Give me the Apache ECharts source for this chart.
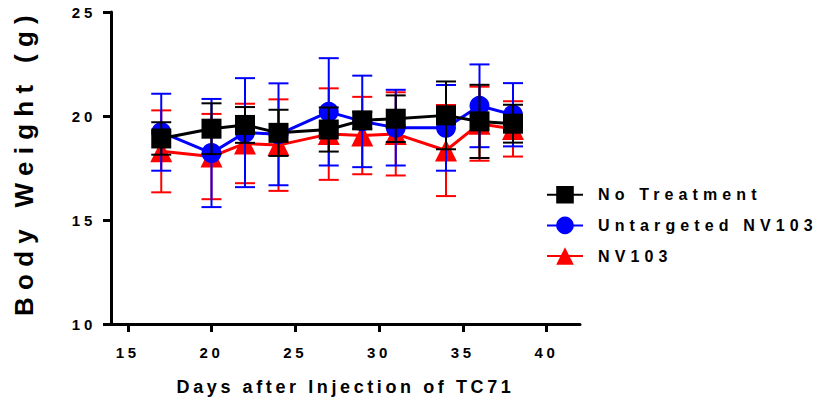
<!DOCTYPE html>
<html>
<head>
<meta charset="utf-8">
<script src="https://cdn.jsdelivr.net/npm/echarts@6/dist/echarts.min.js"></script>
<style>
  html, body { margin: 0; padding: 0; background: #fff; }
  #main { width: 817px; height: 401px; }
  #main text { letter-spacing: 0.32em; }
</style>
</head>
<body>
<div id="main"></div>
<script>
const days = [17, 20, 22, 24, 27, 29, 31, 34, 36, 38];
const noTreatMean = [18.92, 19.39, 19.57, 19.19, 19.35, 19.79, 19.87, 20.03, 19.74, 19.63];
const noTreatErr  = [0.78, 1.22, 0.86, 1.11, 1.06, 0.40, 1.12, 1.63, 1.76, 0.91];
const untargMean  = [19.22, 18.22, 19.20, 19.12, 20.20, 19.74, 19.44, 19.43, 20.49, 20.06];
const untargErr   = [1.85, 2.60, 2.62, 2.45, 2.58, 2.20, 1.82, 2.06, 1.99, 1.52];
const nvMean      = [18.30, 18.05, 18.68, 18.60, 19.13, 19.06, 19.14, 18.34, 19.63, 19.38];
const nvErr       = [1.97, 2.05, 1.91, 2.20, 2.20, 1.86, 2.00, 2.19, 1.78, 1.33];
const xTicks = [15, 20, 25, 30, 35, 40];
const yTicks = [10, 15, 20, 25];
const seriesNames = ['No Treatment', 'Untargeted NV103', 'NV103'];
const xTitle = 'Days after Injection of TC71';
const yTitle = 'Body Weight (g)';

const FONT = 'Liberation Sans';

function pts(mean) { return days.map((d, i) => [d, mean[i]]); }
function errPts(mean, err) { return days.map((d, i) => [d, mean[i], err[i]]); }

function errSeries(name, mean, err, color, z) {
  return {
    type: 'custom',
    name: name + ' err',
    z: z,
    silent: true,
    data: errPts(mean, err),
    renderItem: function (params, api) {
      const x = api.value(0), y = api.value(1), e = api.value(2);
      const t = api.coord([x, y + e]);
      const b = api.coord([x, y - e]);
      const hw = 10;
      const st = { stroke: color, lineWidth: 2 };
      return {
        type: 'group',
        children: [
          { type: 'line', shape: { x1: t[0], y1: t[1], x2: b[0], y2: b[1] }, style: st },
          { type: 'line', shape: { x1: t[0] - hw, y1: t[1], x2: t[0] + hw, y2: t[1] }, style: st },
          { type: 'line', shape: { x1: b[0] - hw, y1: b[1], x2: b[0] + hw, y2: b[1] }, style: st }
        ]
      };
    }
  };
}

function lineSeries(name, mean, color, symbol, size, z) {
  return {
    type: 'line',
    name: name,
    z: z,
    data: pts(mean),
    symbol: symbol,
    symbolSize: size,
    showAllSymbol: true,
    lineStyle: { color: color, width: 3 },
    itemStyle: { color: color },
    emphasis: { disabled: true }
  };
}

const chart = echarts.init(document.getElementById('main'), null, { renderer: 'svg' });
chart.setOption({
  animation: false,
  backgroundColor: '#fff',
  grid: { left: 111, top: 12, width: 469, height: 313, containLabel: false },
  xAxis: {
    type: 'value', min: 14, max: 42,
    name: xTitle,
    nameLocation: 'middle', nameGap: 54,
    nameTextStyle: { fontFamily: FONT, fontWeight: 'bold', fontSize: 18, color: '#000' },
    splitLine: { show: false },
    axisLine: { lineStyle: { color: '#000', width: 3 } },
    axisTick: { length: 8, lineStyle: { color: '#000', width: 3 }, customValues: xTicks },
    axisLabel: { customValues: xTicks, fontFamily: FONT, fontWeight: 'bold', fontSize: 15, color: '#000', margin: 21 }
  },
  yAxis: {
    type: 'value', min: 10, max: 25, interval: 5,
    name: yTitle,
    nameLocation: 'middle', nameGap: 74, nameRotate: 90,
    nameTextStyle: { fontFamily: FONT, fontWeight: 'bold', fontSize: 26, color: '#000', padding: [0, 0, 0, 12] },
    splitLine: { show: false },
    axisLine: { show: true, lineStyle: { color: '#000', width: 3 } },
    axisTick: { show: true, length: 8, lineStyle: { color: '#000', width: 3 }, customValues: yTicks },
    axisLabel: { customValues: yTicks, fontFamily: FONT, fontWeight: 'bold', fontSize: 15, color: '#000', margin: 15 }
  },
  legend: {
    orient: 'vertical', left: 541, top: 181,
    data: seriesNames,
    itemWidth: 36, itemHeight: 22, itemGap: 13,
    textStyle: { fontFamily: FONT, fontWeight: 'bold', fontSize: 16, color: '#000', padding: [0, 0, 0, 10] },
    selectedMode: false
  },
  series: [
    errSeries(seriesNames[2], nvMean, nvErr, '#ff0000', 1),
    lineSeries(seriesNames[2], nvMean, '#ff0000', 'triangle', 22, 2),
    errSeries(seriesNames[1], untargMean, untargErr, '#0000ff', 3),
    lineSeries(seriesNames[1], untargMean, '#0000ff', 'circle', 20, 4),
    errSeries(seriesNames[0], noTreatMean, noTreatErr, '#000000', 5),
    lineSeries(seriesNames[0], noTreatMean, '#000000', 'rect', 20, 6)
  ]
});

// per-text letter spacing to mimic the spaced-out lettering of the original
document.querySelectorAll('#main text').forEach(function (t) {
  const txt = t.textContent;
  if (txt === xTitle) t.style.letterSpacing = '0.2em';
  else if (txt === yTitle) t.style.letterSpacing = '0.28em';
  else if (/^\d+$/.test(txt)) t.style.letterSpacing = '0.25em';
});
</script>
</body>
</html>
